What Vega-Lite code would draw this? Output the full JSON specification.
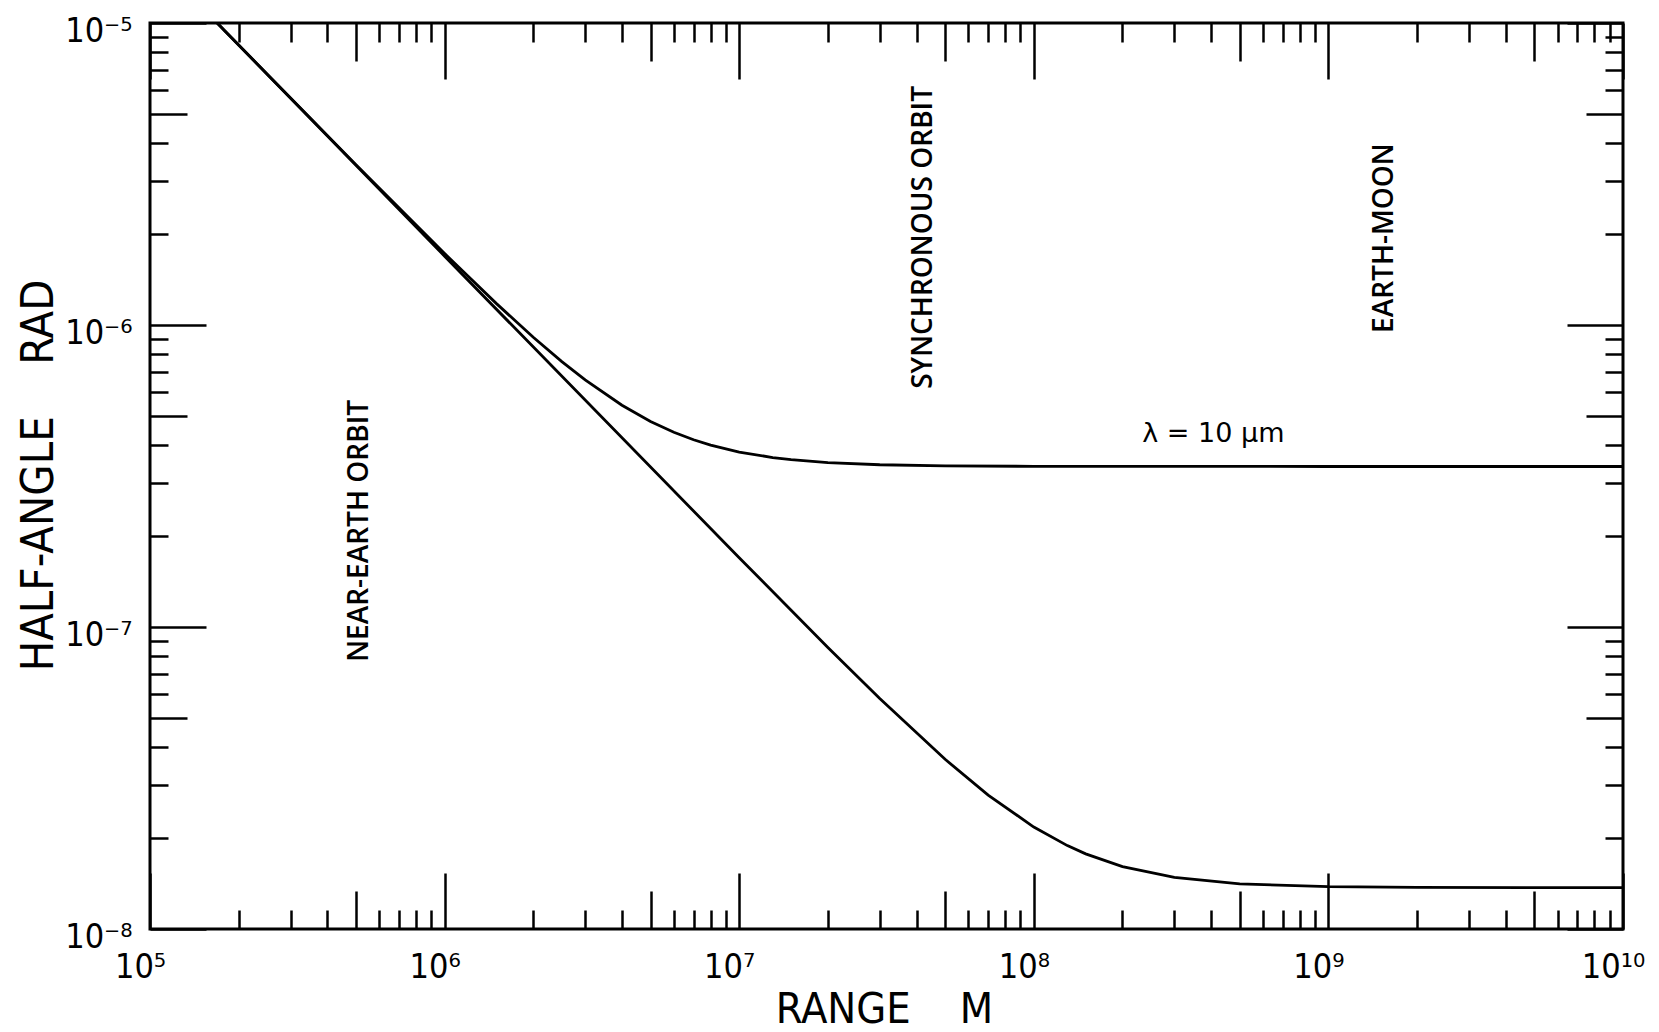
{
  "$schema": "https://vega.github.io/schema/vega-lite/v6.json",
  "width": 1473,
  "height": 906,
  "autosize": "none",
  "padding": {"left": 150, "top": 23, "right": 36, "bottom": 103},
  "background": "white",
  "config": {
    "view": {"stroke": "black", "strokeWidth": 3},
    "axis": {"grid": false, "domain": false, "tickColor": "black", "tickWidth": 2.5, "labelColor": "black", "titleColor": "black", "labelFlush": false, "labelOverlap": false}
  },
  "resolve": {"axis": {"x": "independent", "y": "independent"}},
  "layer": [
    {
      "data": {"values": [
        {"curve": "upper", "R": 169000, "theta": 1.0e-5},
        {"curve": "upper", "R": 300000, "theta": 5.643e-6},
        {"curve": "upper", "R": 500000, "theta": 3.397e-6},
        {"curve": "upper", "R": 1000000, "theta": 1.724e-6},
        {"curve": "upper", "R": 1500000, "theta": 1.177e-6},
        {"curve": "upper", "R": 2000000, "theta": 9.108e-7},
        {"curve": "upper", "R": 2500000, "theta": 7.567e-7},
        {"curve": "upper", "R": 3000000, "theta": 6.580e-7},
        {"curve": "upper", "R": 4000000, "theta": 5.423e-7},
        {"curve": "upper", "R": 5000000, "theta": 4.794e-7},
        {"curve": "upper", "R": 6000000, "theta": 4.415e-7},
        {"curve": "upper", "R": 7000000, "theta": 4.170e-7},
        {"curve": "upper", "R": 8000000, "theta": 4.003e-7},
        {"curve": "upper", "R": 10000000, "theta": 3.797e-7},
        {"curve": "upper", "R": 13000000, "theta": 3.640e-7},
        {"curve": "upper", "R": 15000000, "theta": 3.582e-7},
        {"curve": "upper", "R": 20000000, "theta": 3.503e-7},
        {"curve": "upper", "R": 30000000, "theta": 3.446e-7},
        {"curve": "upper", "R": 50000000, "theta": 3.417e-7},
        {"curve": "upper", "R": 100000000, "theta": 3.404e-7},
        {"curve": "upper", "R": 1000000000, "theta": 3.40e-7},
        {"curve": "upper", "R": 10000000000, "theta": 3.40e-7},
        {"curve": "lower", "R": 169000, "theta": 1.0e-5},
        {"curve": "lower", "R": 1000000, "theta": 1.69e-6},
        {"curve": "lower", "R": 10000000, "theta": 1.6955e-7},
        {"curve": "lower", "R": 20000000, "theta": 8.560e-8},
        {"curve": "lower", "R": 30000000, "theta": 5.797e-8},
        {"curve": "lower", "R": 50000000, "theta": 3.647e-8},
        {"curve": "lower", "R": 70000000, "theta": 2.776e-8},
        {"curve": "lower", "R": 100000000, "theta": 2.1756e-8},
        {"curve": "lower", "R": 130000000, "theta": 1.8886e-8},
        {"curve": "lower", "R": 150000000, "theta": 1.7738e-8},
        {"curve": "lower", "R": 200000000, "theta": 1.6096e-8},
        {"curve": "lower", "R": 300000000, "theta": 1.4813e-8},
        {"curve": "lower", "R": 500000000, "theta": 1.4111e-8},
        {"curve": "lower", "R": 1000000000, "theta": 1.3804e-8},
        {"curve": "lower", "R": 2000000000, "theta": 1.3726e-8},
        {"curve": "lower", "R": 10000000000, "theta": 1.37e-8}
      ]},
      "mark": {"type": "line", "color": "black", "strokeWidth": 2.8, "clip": true},
      "encoding": {
        "x": {"field": "R", "type": "quantitative",
          "scale": {"type": "log", "domain": [100000, 10000000000]},
          "axis": {"orient": "bottom", "values": [100000, 1000000, 10000000, 100000000, 1000000000, 10000000000],
            "ticks": false,
            "labelExpr": "'10' + ['\u2075','\u2076','\u2077','\u2078','\u2079','\u00b9\u2070'][round(log(datum.value)/LN10) - 5]",
            "labelFont": "Liberation Sans Narrow, DejaVu Sans Condensed, Liberation Sans",
            "labelFontSize": 34, "labelPadding": 48, "labelBaseline": "alphabetic", "labelAlign": "center", "labelOffset": -10,
            "title": "RANGE\u00a0\u00a0\u00a0\u00a0M",
            "titleFont": "Liberation Sans Narrow, DejaVu Sans Condensed, Liberation Sans",
            "titleFontSize": 43, "titleFontWeight": "normal",
            "titleX": 734, "titleY": 93, "titleBaseline": "alphabetic", "titleAlign": "center"}},
        "y": {"field": "theta", "type": "quantitative",
          "scale": {"type": "log", "domain": [1e-8, 1e-5]},
          "axis": {"orient": "left", "values": [1e-8, 1e-7, 1e-6, 1e-5],
            "ticks": false,
            "labelExpr": "'10' + ['\u207b\u2078','\u207b\u2077','\u207b\u2076','\u207b\u2075'][round(log(datum.value)/LN10) + 8]",
            "labelFont": "Liberation Sans Narrow, DejaVu Sans Condensed, Liberation Sans",
            "labelFontSize": 34, "labelPadding": 18, "labelBaseline": "alphabetic", "labelAlign": "right", "labelOffset": 18,
            "title": "HALF-ANGLE\u00a0\u00a0\u00a0\u00a0RAD",
            "titleFont": "Liberation Sans Narrow, DejaVu Sans Condensed, Liberation Sans",
            "titleFontSize": 45, "titleFontWeight": "normal", "titleAngle": 270,
            "titleX": -98, "titleY": 452, "titleBaseline": "alphabetic", "titleAlign": "center"}},
        "detail": {"field": "curve", "type": "nominal"}
      }
    },
    {
      "data": {"values": [
        {"R": 516000, "theta": 2.08e-7, "label": "NEAR-EARTH ORBIT"},
        {"R": 42400000, "theta": 1.95e-6, "label": "SYNCHRONOUS ORBIT"},
        {"R": 1560000000, "theta": 1.94e-6, "label": "EARTH-MOON"}
      ]},
      "mark": {"type": "text", "angle": 270, "font": "Open Sans", "fontSize": 28, "fontWeight": 600, "align": "center", "baseline": "middle", "color": "black"},
      "encoding": {
        "x": {"field": "R", "type": "quantitative",
          "scale": {"type": "log", "domain": [100000, 10000000000]},
          "axis": {"orient": "bottom", "labels": false, "title": null,
            "values": [100000,200000,300000,400000,500000,600000,700000,800000,900000,1000000,2000000,3000000,4000000,5000000,6000000,7000000,8000000,9000000,10000000,20000000,30000000,40000000,50000000,60000000,70000000,80000000,90000000,100000000,200000000,300000000,400000000,500000000,600000000,700000000,800000000,900000000,1000000000,2000000000,3000000000,4000000000,5000000000,6000000000,7000000000,8000000000,9000000000,10000000000],
            "tickSize": {"condition": [
              {"test": "abs(log(datum.value)/LN10 - round(log(datum.value)/LN10)) < 0.01", "value": -56},
              {"test": "abs(log(datum.value)/LN10 - floor(log(datum.value)/LN10 + 0.001) - 0.699) < 0.01", "value": -38}
            ], "value": -19}}},
        "y": {"field": "theta", "type": "quantitative",
          "scale": {"type": "log", "domain": [1e-8, 1e-5]},
          "axis": {"orient": "left", "labels": false, "title": null,
            "values": [1e-8,2e-8,3e-8,4e-8,5e-8,6e-8,7e-8,8e-8,9e-8,1e-7,2e-7,3e-7,4e-7,5e-7,6e-7,7e-7,8e-7,9e-7,1e-6,2e-6,3e-6,4e-6,5e-6,6e-6,7e-6,8e-6,9e-6,1e-5],
            "tickSize": {"condition": [
              {"test": "abs(log(datum.value)/LN10 - round(log(datum.value)/LN10)) < 0.01", "value": -56},
              {"test": "abs(log(datum.value)/LN10 - floor(log(datum.value)/LN10 + 0.001) - 0.699) < 0.01", "value": -37}
            ], "value": -18}}},
        "text": {"field": "label", "type": "nominal"}
      }
    },
    {
      "data": {"values": [
        {"R": 407000000, "theta": 4.1e-7, "label": "\u03bb = 10 \u03bcm"}
      ]},
      "mark": {"type": "text", "font": "DejaVu Sans", "fontSize": 27, "align": "center", "baseline": "alphabetic", "color": "black"},
      "encoding": {
        "x": {"field": "R", "type": "quantitative",
          "scale": {"type": "log", "domain": [100000, 10000000000]},
          "axis": {"orient": "top", "labels": false, "title": null,
            "values": [100000,200000,300000,400000,500000,600000,700000,800000,900000,1000000,2000000,3000000,4000000,5000000,6000000,7000000,8000000,9000000,10000000,20000000,30000000,40000000,50000000,60000000,70000000,80000000,90000000,100000000,200000000,300000000,400000000,500000000,600000000,700000000,800000000,900000000,1000000000,2000000000,3000000000,4000000000,5000000000,6000000000,7000000000,8000000000,9000000000,10000000000],
            "tickSize": {"condition": [
              {"test": "abs(log(datum.value)/LN10 - round(log(datum.value)/LN10)) < 0.01", "value": -56},
              {"test": "abs(log(datum.value)/LN10 - floor(log(datum.value)/LN10 + 0.001) - 0.699) < 0.01", "value": -38}
            ], "value": -19}}},
        "y": {"field": "theta", "type": "quantitative",
          "scale": {"type": "log", "domain": [1e-8, 1e-5]},
          "axis": {"orient": "right", "labels": false, "title": null,
            "values": [1e-8,2e-8,3e-8,4e-8,5e-8,6e-8,7e-8,8e-8,9e-8,1e-7,2e-7,3e-7,4e-7,5e-7,6e-7,7e-7,8e-7,9e-7,1e-6,2e-6,3e-6,4e-6,5e-6,6e-6,7e-6,8e-6,9e-6,1e-5],
            "tickSize": {"condition": [
              {"test": "abs(log(datum.value)/LN10 - round(log(datum.value)/LN10)) < 0.01", "value": -56},
              {"test": "abs(log(datum.value)/LN10 - floor(log(datum.value)/LN10 + 0.001) - 0.699) < 0.01", "value": -37}
            ], "value": -18}}},
        "text": {"field": "label", "type": "nominal"}
      }
    }
  ]
}
